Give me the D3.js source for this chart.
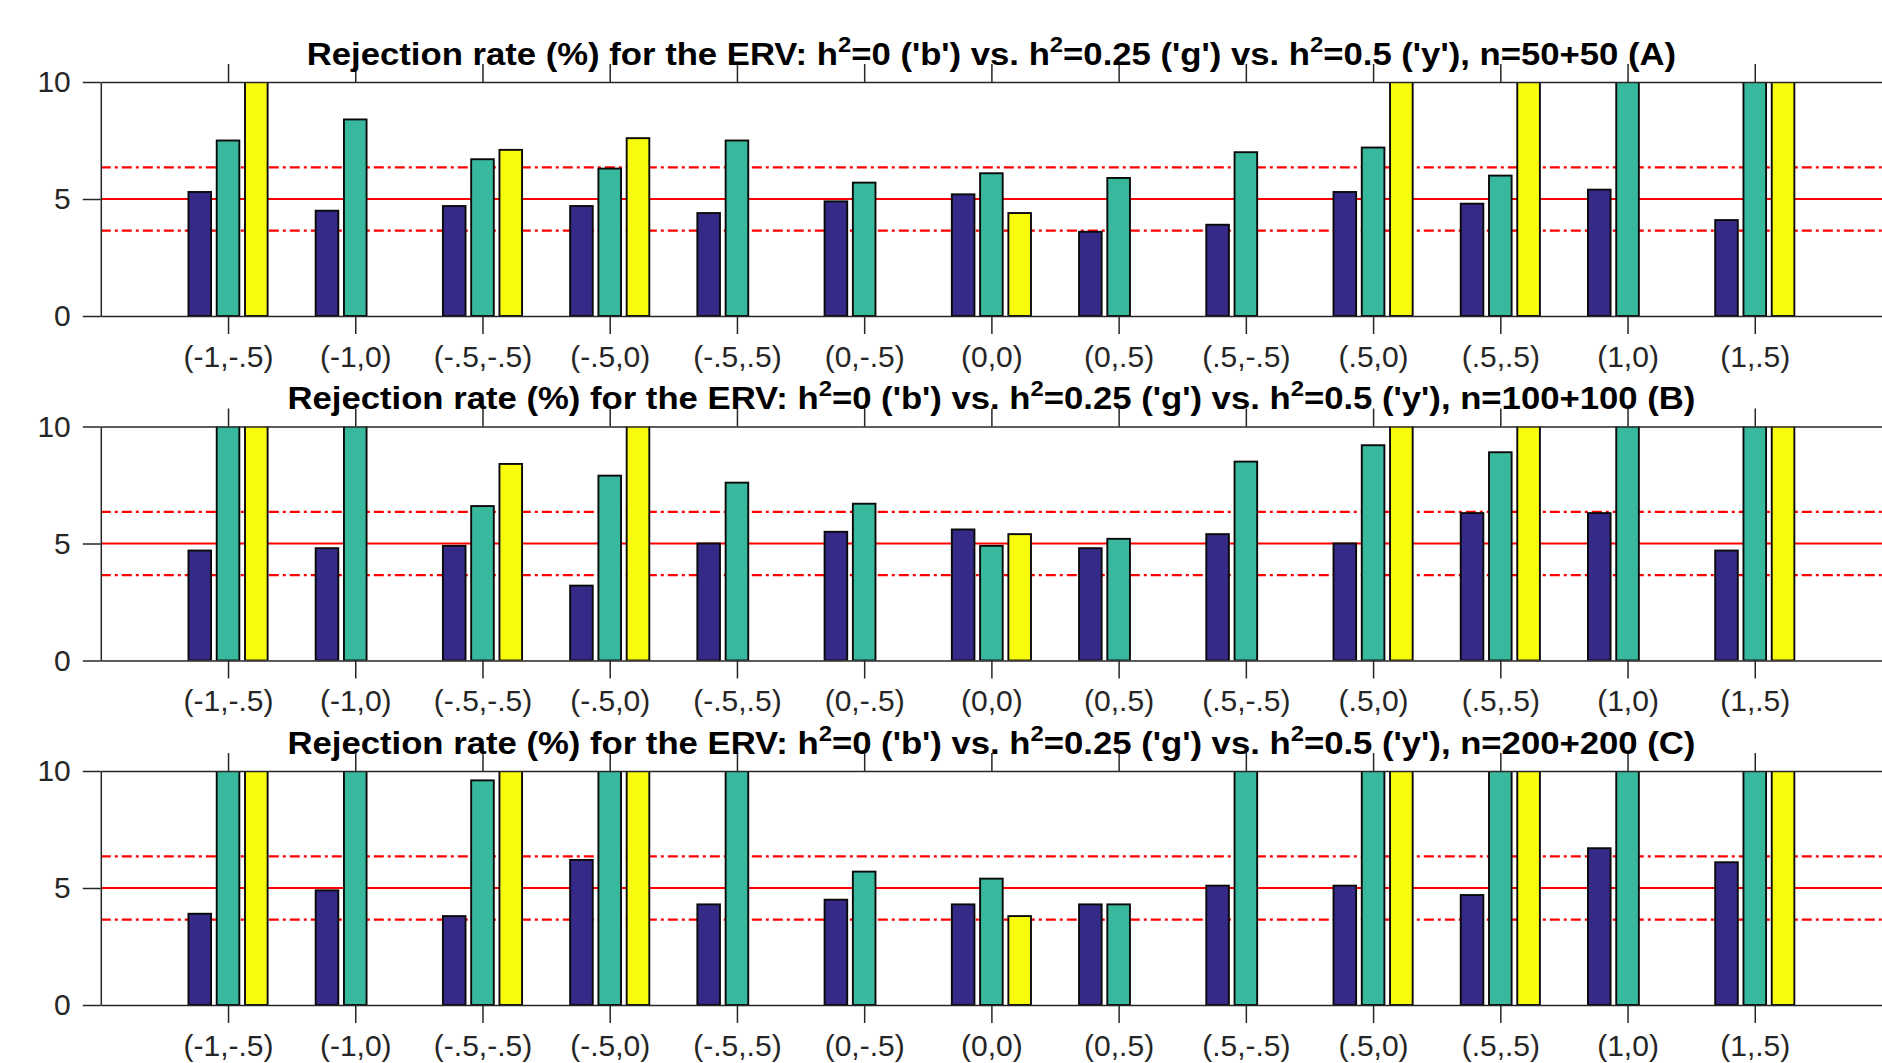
<!DOCTYPE html>
<html>
<head>
<meta charset="utf-8">
<script src="https://cdn.jsdelivr.net/npm/d3@7"></script>
<style>
  html, body { margin: 0; padding: 0; background: #fff; }
  svg { display: block; }
  text { font-family: "Liberation Sans", Arial, Helvetica, sans-serif; }
</style>
</head>
<body>
<svg id="chart" width="1882" height="1063"></svg>
<script>
// ---------------- data ----------------
const categories = ["(-1,-.5)","(-1,0)","(-.5,-.5)","(-.5,0)","(-.5,.5)","(0,-.5)","(0,0)","(0,.5)","(.5,-.5)","(.5,0)","(.5,.5)","(1,0)","(1,.5)"];
const seriesNames = ["b", "g", "y"];
const panelLabels = ["n=50+50 (A)", "n=100+100 (B)", "n=200+200 (C)"];
// values above 10 are off-scale (clipped at the top of the axes); 12 marks them
const blueA   = [5.3, 4.5, 4.7, 4.7, 4.4, 4.9, 5.2, 3.6, 3.9, 5.3, 4.8, 5.4, 4.1];
const greenA  = [7.5, 8.4, 6.7, 6.3, 7.5, 5.7, 6.1, 5.9, 7.0, 7.2, 6.0, 12, 12];
const yellowA = [12, 0, 7.1, 7.6, 0, 0, 4.4, 0, 0, 12, 12, 0, 12];
const blueB   = [4.7, 4.8, 4.9, 3.2, 5.0, 5.5, 5.6, 4.8, 5.4, 5.0, 6.3, 6.3, 4.7];
const greenB  = [12, 12, 6.6, 7.9, 7.6, 6.7, 4.9, 5.2, 8.5, 9.2, 8.9, 12, 12];
const yellowB = [12, 0, 8.4, 12, 0, 0, 5.4, 0, 0, 12, 12, 0, 12];
const blueC   = [3.9, 4.9, 3.8, 6.2, 4.3, 4.5, 4.3, 4.3, 5.1, 5.1, 4.7, 6.7, 6.1];
const greenC  = [12, 12, 9.6, 12, 12, 5.7, 5.4, 4.3, 12, 12, 12, 12, 12];
const yellowC = [12, 0, 12, 12, 0, 0, 3.8, 0, 0, 12, 12, 0, 12];
const yTicks = [0, 5, 10];
const yDomain = [0, 10];
const nominal = 5;
const bandLow = 3.65, bandHigh = 6.35;

const panels = [
  [blueA, greenA, yellowA],
  [blueB, greenB, yellowB],
  [blueC, greenC, yellowC]
];

// ---------------- styles ----------------
const colors = ["#352a87", "#38b89d", "#f9fb0e"];
const axisColor = "#262626";

// ---------------- layout ----------------
const svg = d3.select("#chart");
const left = 100.8, right = 1882;
const firstTop = 82, panelH = 234, panelStep = 344.5;
const tickLen = 18;
const titleWidthA = 1370;
let titleScale = null;

const x = d3.scaleLinear().domain([0, categories.length + 1]).range([left, right]);
const unit = x(1) - x(0);
const groupW = Math.min(0.8, 3 / (3 + 1.5));
const slot = groupW / 3;
const barW = slot * 0.8;

panels.forEach((series, pi) => {
  const top = firstTop + pi * panelStep;
  const bottom = top + panelH;
  const y = d3.scaleLinear().domain(yDomain).range([bottom, top]);
  const g = svg.append("g");

  const clipId = "clip" + pi;
  svg.append("clipPath").attr("id", clipId)
    .append("rect").attr("x", left).attr("y", top).attr("width", right - left).attr("height", panelH);

  // reference lines (behind bars)
  const refG = g.append("g").attr("clip-path", `url(#${clipId})`);
  refG.append("line").attr("x1", left).attr("x2", right)
    .attr("y1", y(nominal)).attr("y2", y(nominal))
    .attr("stroke", "#ff0000").attr("stroke-width", 2.2);
  [bandLow, bandHigh].forEach(v => {
    refG.append("line").attr("x1", left).attr("x2", right)
      .attr("y1", y(v)).attr("y2", y(v))
      .attr("stroke", "#ff0000").attr("stroke-width", 2.2)
      .attr("stroke-dasharray", "10,4,3,4");
  });

  // bars
  const barsG = g.append("g").attr("clip-path", `url(#${clipId})`);
  series.forEach((vals, si) => {
    const off = (si - 1) * slot;
    barsG.selectAll(null).data(vals.map((v, i) => ({ v, i })))
      .enter().append("rect")
      .attr("x", d => x(d.i + 1 + off - barW / 2))
      .attr("width", unit * barW)
      .attr("y", d => y(Math.max(0, d.v)))
      .attr("height", d => y(0) - y(Math.max(0, d.v)))
      .attr("fill", colors[si])
      .attr("stroke", "#0a0a0a")
      .attr("stroke-width", 1.9);
  });

  // axes box
  const xAxisB = d3.axisBottom(x).tickValues(d3.range(1, categories.length + 1))
    .tickFormat(d => categories[d - 1]).tickSize(tickLen).tickPadding(10).tickSizeOuter(0);
  const xAxisT = d3.axisTop(x).tickValues(d3.range(1, categories.length + 1))
    .tickFormat("").tickSize(tickLen).tickSizeOuter(0);
  const yAxisL = d3.axisLeft(y).tickValues(yTicks).tickFormat(d3.format("d"))
    .tickSize(tickLen).tickPadding(12).tickSizeOuter(0);

  const gb = g.append("g").attr("transform", `translate(0,${bottom})`).call(xAxisB);
  const gt = g.append("g").attr("transform", `translate(0,${top})`).call(xAxisT);
  const gl = g.append("g").attr("transform", `translate(${left},0)`).call(yAxisL);
  [gb, gt, gl].forEach(a => {
    a.selectAll("path.domain").attr("stroke", axisColor).attr("stroke-width", 1.5);
    a.selectAll(".tick line").attr("stroke", axisColor).attr("stroke-width", 1.5);
    a.selectAll(".tick text").attr("fill", axisColor)
      .style("font-family", '"Liberation Sans", Arial, sans-serif').style("font-size", "30px");
  });
  gb.selectAll(".tick text").attr("dy", "0.75em");

  // title
  const cx = (left + right) / 2;
  const ty = top - 17.5;
  const t = g.append("text")
    .attr("text-anchor", "middle")
    .style("font-size", "32px").style("font-weight", "bold").attr("fill", "#000");
  const parts = [
    ["Rejection rate (%) for the ERV: h", false], ["2", true],
    [`=0 ('${seriesNames[0]}') vs. h`, false], ["2", true],
    [`=0.25 ('${seriesNames[1]}') vs. h`, false], ["2", true],
    [`=0.5 ('${seriesNames[2]}'), ${panelLabels[pi]}`, false]
  ];
  parts.forEach(([s, sup], k) => {
    const ts = t.append("tspan").text(s);
    if (sup) ts.attr("dy", -13).style("font-size", "22px");
    else if (k > 0) ts.attr("dy", 13);
  });
  if (titleScale === null) {
    const w = t.node().getBBox().width;
    titleScale = w > 0 ? titleWidthA / w : 1;
  }
  t.attr("transform", `translate(${cx},${ty}) scale(${titleScale},1)`);
});
</script>
</body>
</html>
